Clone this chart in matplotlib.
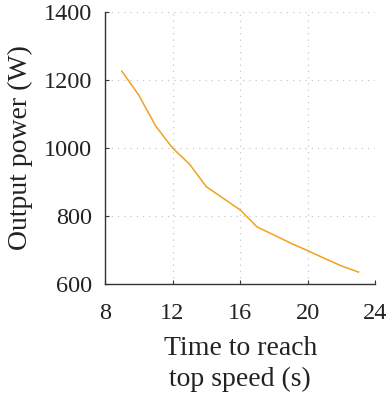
import matplotlib
matplotlib.use('Agg')
import matplotlib.pyplot as plt

# time to reach top speed (s) vs required output power (W)
time_s = [9, 10, 11, 12, 13, 14, 15, 16, 17, 18, 19, 20, 21, 22, 23]
power_w = [1226, 1156, 1065, 1000, 953, 886, 852, 818, 768, 744, 720, 698, 675, 653, 635]

x_ticks = [8, 12, 16, 20, 24]
y_ticks = [600, 800, 1000, 1200, 1400]

plt.rcParams['font.family'] = ['Liberation Serif', 'DejaVu Serif']

fig = plt.figure(figsize=(3.87, 4.0), dpi=100)
ax = fig.add_axes([0.271, 0.29, 0.699, 0.68])

ax.plot(time_s, power_w, color='#f0a21e', lw=1.1)

ax.set_xlim(8, 24)
ax.set_ylim(600, 1400)
ax.set_xticks(x_ticks)
ax.set_yticks(y_ticks)
ax.grid(True, color='#c8c8c8', linestyle=(0, (1, 4)), lw=0.9)

for side in ['top', 'right']:
    ax.spines[side].set_visible(False)
for side in ['left', 'bottom']:
    ax.spines[side].set_color('#333333')
    ax.spines[side].set_linewidth(1.0)
ax.tick_params(direction='in', length=3, color='#333333', labelcolor='#222222', labelsize=17.5)
ax.tick_params(axis='x', pad=14)
ax.tick_params(axis='y', pad=9)

ax.set_xlabel('Time to reach\ntop speed (s)', fontsize=20, color='#222222', labelpad=8, linespacing=1.32)
ax.set_ylabel('Output power (W)', fontsize=20, color='#222222', labelpad=8)

fig.savefig('out.png', dpi=100)
